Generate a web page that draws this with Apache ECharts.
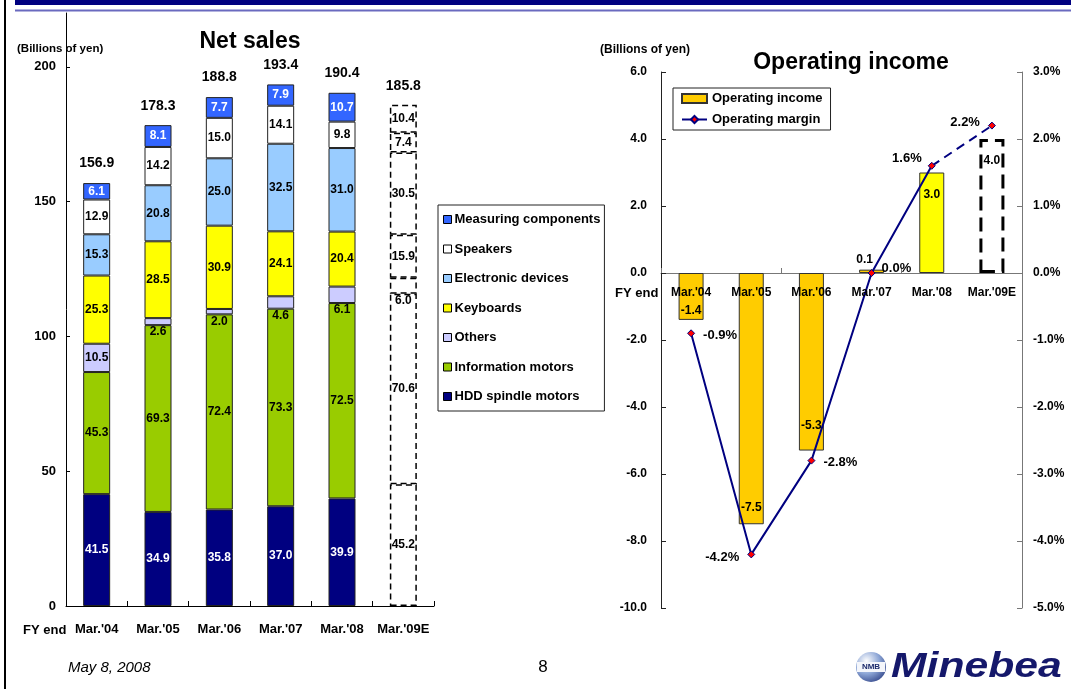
<!DOCTYPE html>
<html>
<head>
<meta charset="utf-8">
<script src="https://cdn.jsdelivr.net/npm/echarts@6/dist/echarts.min.js"></script>
<style>
  html, body { margin: 0; padding: 0; background: #fff; }
  #chart { width: 1071px; height: 689px; }
</style>
</head>
<body>
<div id="chart"></div>
<script>
// ---------- data ----------
const categories = ["Mar.'04", "Mar.'05", "Mar.'06", "Mar.'07", "Mar.'08", "Mar.'09E"];
const hddSpindle = [41.5, 34.9, 35.8, 37.0, 39.9, 45.2];
const infoMotors = [45.3, 69.3, 72.4, 73.3, 72.5, 70.6];
const others = [10.5, 2.6, 2.0, 4.6, 6.1, 6.0];
const keyboards = [25.3, 28.5, 30.9, 24.1, 20.4, 15.9];
const electronicDevices = [15.3, 20.8, 25.0, 32.5, 31.0, 30.5];
const speakers = [12.9, 14.2, 15.0, 14.1, 9.8, 7.4];
const measuring = [6.1, 8.1, 7.7, 7.9, 10.7, 10.4];
const netTotals = [156.9, 178.3, 188.8, 193.4, 190.4, 185.8];
const netTicks = [0, 50, 100, 150, 200];

const opIncome = [-1.4, -7.5, -5.3, 0.1, 3.0, 4.0];
const opMargin = [-0.9, -4.2, -2.8, 0.0, 1.6, 2.2];

// ---------- styling ----------
const FONT = 'Liberation Sans, Arial, sans-serif';
const forecastIndex = 5;

function netSeries(name, values, color, labelColor, extraLabel) {
  return {
    name: name, type: 'bar', stack: 'net', xAxisIndex: 0, yAxisIndex: 0,
    barWidth: 27,
    itemStyle: { color: color, borderColor: '#222', borderWidth: 1 },
    label: {
      show: true, position: 'inside', color: labelColor,
      fontFamily: FONT, fontWeight: 'bold', fontSize: 12,
      formatter: p => Number(p.value).toFixed(1)
    },
    data: values.map((v, i) => {
      const item = { value: v };
      const lab = extraLabel ? extraLabel(i) : null;
      if (lab) item.label = Object.assign({}, lab);
      if (i === forecastIndex) {
        item.itemStyle = { color: 'rgba(255,255,255,0)', borderColor: '#000', borderType: [6, 4], borderWidth: 1.5 };
        item.label = Object.assign(item.label || {}, { color: '#000' });
      }
      return item;
    })
  };
}

const othersLabel = i => (i === 0 ? null : { position: 'bottom', distance: 1 });

const incomeColors = ['#FFCC00', '#FFCC00', '#FFCC00', '#FFCC00', '#FFFF00', 'rgba(255,255,255,0)'];
const incomeLabelDistance = [3, 11, 19, 4, 16, 16];
function incomeLabel(v, i) {
  if (i === 3) return { position: 'top', distance: incomeLabelDistance[i], offset: [-7, 0] };
  if (v < 0) return { position: 'insideBottom', distance: incomeLabelDistance[i] };
  return { position: 'insideTop', distance: incomeLabelDistance[i] };
}
const marginLabelPos = [
  { position: 'right', distance: 8, offset: [0, 2] },
  { position: 'left', distance: 8, offset: [0, 3] },
  { position: 'right', distance: 8, offset: [0, 2] },
  { position: 'right', distance: 6, offset: [0, -5] },
  { position: 'left', distance: 6, offset: [0, -7] },
  { position: 'left', distance: 8, offset: [0, -3] }
];

const chart = echarts.init(document.getElementById('chart'), null, { renderer: 'canvas' });

const marginPoint = (v, i) => ({ value: v, label: marginLabelPos[i] });

const option = {
  backgroundColor: '#fff',
  animation: false,
  textStyle: { fontFamily: FONT },
  grid: [
    { left: 66, top: 13, width: 368, height: 593 },
    { left: 661, top: 72, width: 361, height: 536 }
  ],
  legend: [
    {
      data: ['Measuring components', 'Speakers', 'Electronic devices', 'Keyboards', 'Others', 'Information motors', 'HDD spindle motors'],
      orient: 'vertical', left: 438, top: 205,
      padding: [8, 4, 8, 5], itemGap: 16.5, itemWidth: 8, itemHeight: 8,
      borderColor: '#222', borderWidth: 1,
      icon: 'rect',
      itemStyle: { borderColor: '#000', borderWidth: 1 },
      textStyle: { fontFamily: FONT, fontWeight: 'bold', fontSize: 13, color: '#000', padding: [0, 0, 0, -2] },
      selectedMode: false
    },
    {
      data: [
        { name: 'Operating income', icon: 'rect' },
        { name: 'Operating margin' }
      ],
      orient: 'vertical', left: 673, top: 88,
      padding: [4, 8, 4, 8], itemGap: 8, itemWidth: 25, itemHeight: 9,
      borderColor: '#222', borderWidth: 1,
      textStyle: { fontFamily: FONT, fontWeight: 'bold', fontSize: 13, color: '#000' },
      selectedMode: false
    }
  ],
  xAxis: [
    {
      type: 'category', gridIndex: 0, data: categories,
      axisLine: { lineStyle: { color: '#000', width: 1 } },
      axisTick: { show: true, inside: true, length: 5, lineStyle: { color: '#000' } },
      axisLabel: { fontFamily: FONT, fontWeight: 'bold', fontSize: 13, color: '#000', margin: 17, interval: 0 }
    },
    {
      type: 'category', gridIndex: 1, data: categories,
      axisLine: { onZero: true, lineStyle: { color: '#777', width: 1 } },
      axisTick: { show: true, inside: true, length: 5, lineStyle: { color: '#777' } },
      axisLabel: { show: false }
    }
  ],
  yAxis: [
    {
      type: 'value', gridIndex: 0, min: 0, max: 220,
      axisLine: { show: true, lineStyle: { color: '#000', width: 1 } },
      axisTick: { show: true, inside: true, length: 4, customValues: netTicks, lineStyle: { color: '#000' } },
      axisLabel: { customValues: netTicks, fontFamily: FONT, fontWeight: 'bold', fontSize: 13, color: '#000', margin: 10 },
      splitLine: { show: false }
    },
    {
      type: 'value', gridIndex: 1, min: -10, max: 6, interval: 2,
      axisLine: { show: true, lineStyle: { color: '#222', width: 1 } },
      axisTick: { show: true, inside: true, length: 5, lineStyle: { color: '#222' } },
      axisLabel: { fontFamily: FONT, fontWeight: 'bold', fontSize: 12, color: '#000', margin: 14, formatter: v => v.toFixed(1) },
      splitLine: { show: false }
    },
    {
      type: 'value', gridIndex: 1, position: 'right', min: -5, max: 3, interval: 1,
      axisLine: { show: true, lineStyle: { color: '#777', width: 1 } },
      axisTick: { show: true, inside: true, length: 5, lineStyle: { color: '#777' } },
      axisLabel: { fontFamily: FONT, fontWeight: 'bold', fontSize: 12, color: '#000', margin: 11, formatter: v => v.toFixed(1) + '%' },
      splitLine: { show: false }
    }
  ],
  series: [
    netSeries('HDD spindle motors', hddSpindle, '#000080', '#fff'),
    netSeries('Information motors', infoMotors, '#99CC00', '#000'),
    netSeries('Others', others, '#CCCCFF', '#000', othersLabel),
    netSeries('Keyboards', keyboards, '#FFFF00', '#000'),
    netSeries('Electronic devices', electronicDevices, '#99CCFF', '#000'),
    netSeries('Speakers', speakers, '#FFFFFF', '#000'),
    netSeries('Measuring components', measuring, '#3366FF', '#fff'),
    {
      name: 'Net total', type: 'scatter', xAxisIndex: 0, yAxisIndex: 0,
      symbolSize: 1, itemStyle: { color: 'rgba(0,0,0,0)', opacity: 1 }, silent: true,
      label: {
        show: true, position: 'top', distance: 12, color: '#000',
        fontFamily: FONT, fontWeight: 'bold', fontSize: 14,
        formatter: p => Number(p.value).toFixed(1)
      },
      data: netTotals
    },
    {
      name: 'Operating income', type: 'bar', xAxisIndex: 1, yAxisIndex: 1,
      barWidth: 25,
      itemStyle: { color: '#FFCC00', borderColor: '#333', borderWidth: 1 },
      label: {
        show: true, color: '#000', fontFamily: FONT, fontWeight: 'bold', fontSize: 12,
        formatter: p => Number(p.value).toFixed(1)
      },
      data: opIncome.map((v, i) => {
        const item = { value: v, itemStyle: { color: incomeColors[i] }, label: incomeLabel(v, i) };
        if (i === forecastIndex) {
          item.itemStyle = { color: 'rgba(255,255,255,0)', borderColor: '#000', borderType: [14, 7], borderWidth: 3 };
        }
        return item;
      })
    },
    {
      name: 'Operating margin', type: 'line', xAxisIndex: 1, yAxisIndex: 2,
      symbol: 'diamond', symbolSize: 7, z: 5,
      itemStyle: { color: '#FF0000', borderColor: '#000080', borderWidth: 1 },
      lineStyle: { color: '#000080', width: 2 },
      label: {
        show: true, color: '#000', fontFamily: FONT, fontWeight: 'bold', fontSize: 13,
        formatter: p => Number(p.value).toFixed(1) + '%'
      },
      data: opMargin.map((v, i) => (i < forecastIndex ? marginPoint(v, i) : '-'))
    },
    {
      name: 'Operating margin (forecast)', type: 'line', xAxisIndex: 1, yAxisIndex: 2,
      symbol: 'diamond', symbolSize: 7, z: 4,
      itemStyle: { color: '#FF0000', borderColor: '#000080', borderWidth: 1 },
      lineStyle: { color: '#000080', width: 2, type: [9, 6] },
      label: {
        show: true, color: '#000', fontFamily: FONT, fontWeight: 'bold', fontSize: 13,
        formatter: p => Number(p.value).toFixed(1) + '%'
      },
      data: opMargin.map((v, i) => {
        if (i < forecastIndex - 1) return '-';
        if (i === forecastIndex - 1) return { value: v, symbol: 'none', label: { show: false } };
        return marginPoint(v, i);
      })
    },
    {
      name: 'Category labels', type: 'scatter', xAxisIndex: 1, yAxisIndex: 1,
      symbolSize: 1, itemStyle: { color: 'rgba(0,0,0,0)', opacity: 1 }, silent: true, z: 6,
      label: {
        show: true, position: 'bottom', distance: 13, color: '#000',
        fontFamily: FONT, fontWeight: 'bold', fontSize: 12,
        formatter: p => categories[p.dataIndex]
      },
      data: categories.map(() => 0)
    }
  ],
  graphic: [
    { type: 'rect', shape: { x: 15, y: 0, width: 1056, height: 5 }, style: { fill: '#000080' }, silent: true },
    { type: 'line', shape: { x1: 15, y1: 10.5, x2: 1071, y2: 10.5 }, style: { stroke: '#6a6abf', lineWidth: 2 }, silent: true },
    { type: 'line', shape: { x1: 5, y1: 0, x2: 5, y2: 689 }, style: { stroke: '#000', lineWidth: 2 }, silent: true },
    { type: 'text', style: { text: 'Net sales', x: 250, y: 42, textAlign: 'center', textVerticalAlign: 'middle', font: 'bold 23px ' + FONT, fill: '#000' } },
    { type: 'text', style: { text: 'Operating income', x: 851, y: 63, textAlign: 'center', textVerticalAlign: 'middle', font: 'bold 23px ' + FONT, fill: '#000' } },
    { type: 'text', style: { text: '(Billions of yen)', x: 17, y: 49, textAlign: 'left', textVerticalAlign: 'middle', font: 'bold 11.5px ' + FONT, fill: '#000' } },
    { type: 'text', style: { text: '(Billions of yen)', x: 600, y: 50, textAlign: 'left', textVerticalAlign: 'middle', font: 'bold 12px ' + FONT, fill: '#000' } },
    { type: 'text', style: { text: 'FY end', x: 23, y: 630, textAlign: 'left', textVerticalAlign: 'middle', font: 'bold 13px ' + FONT, fill: '#000' } },
    { type: 'text', style: { text: 'FY end', x: 615, y: 293, textAlign: 'left', textVerticalAlign: 'middle', font: 'bold 13px ' + FONT, fill: '#000' } },
    { type: 'text', style: { text: 'May 8, 2008', x: 68, y: 668, textAlign: 'left', textVerticalAlign: 'middle', font: 'italic 15px ' + FONT, fill: '#000' } },
    { type: 'text', style: { text: '8', x: 543, y: 667, textAlign: 'center', textVerticalAlign: 'middle', font: '17px ' + FONT, fill: '#000' } },
    {
      type: 'circle', shape: { cx: 871, cy: 667, r: 15 },
      style: {
        fill: new echarts.graphic.RadialGradient(0.35, 0.3, 0.85, [
          { offset: 0, color: '#ffffff' }, { offset: 0.5, color: '#8da6d6' }, { offset: 1, color: '#26397f' }
        ])
      }
    },
    { type: 'rect', shape: { x: 857, y: 662, width: 28, height: 10 }, style: { fill: '#f4f6fb' } },
    { type: 'text', style: { text: 'NMB', x: 871, y: 667, textAlign: 'center', textVerticalAlign: 'middle', font: 'bold 8px ' + FONT, fill: '#1b2a6b' } },
    { type: 'text', x: 891, y: 667, scaleX: 1.22, style: { text: 'Minebea', x: 0, y: 0, textAlign: 'left', textVerticalAlign: 'middle', font: 'italic bold 35px ' + FONT, fill: '#15186b' } }
  ]
};

chart.setOption(option);
</script>
</body>
</html>
